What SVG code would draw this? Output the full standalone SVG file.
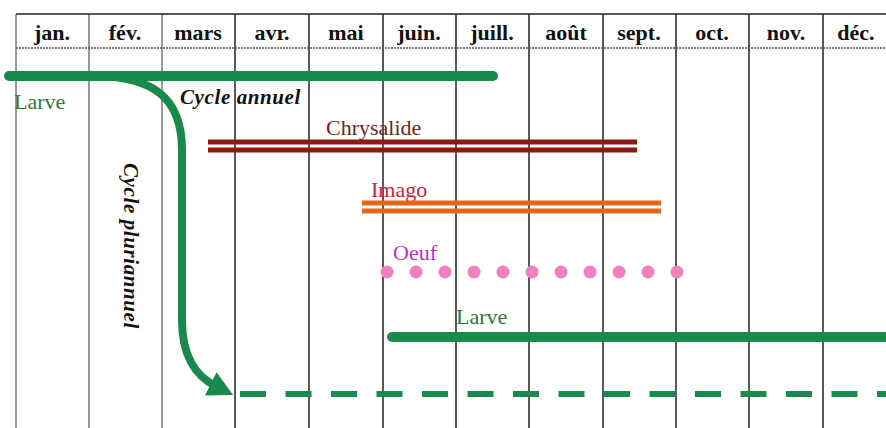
<svg xmlns="http://www.w3.org/2000/svg" width="886" height="428" viewBox="0 0 886 428">
<style>
.grid{stroke:#222;stroke-width:1.5}
.gridl{stroke:#777;stroke-width:1.5}
text{font-family:"Liberation Serif","Tinos","DejaVu Serif","Times New Roman",serif}
.hdr{font-weight:bold;font-size:22px;fill:#111;text-anchor:middle}
.lbl{font-size:22px}
.cyc{font-weight:bold;font-style:italic;font-size:21px;letter-spacing:0.6px;fill:#111}
.green{stroke:#1a8a4c;fill:none;stroke-linecap:round}
</style>
<defs>
<marker id="ah" markerWidth="28" markerHeight="28" refX="7" refY="13" orient="auto" markerUnits="userSpaceOnUse">
<path d="M0,0 L25,13 L0,26 Z" fill="#1a8a4c"/>
</marker>
</defs>
<rect width="886" height="428" fill="#fff"/>
<g id="grid">
<line class="gridl" x1="16" y1="14" x2="16" y2="428"/>
<line class="gridl" x1="89" y1="14" x2="89" y2="428"/>
<line class="gridl" x1="162" y1="14" x2="162" y2="428"/>
<line class="grid" x1="235" y1="14" x2="235" y2="428"/>
<line class="grid" x1="309" y1="14" x2="309" y2="428"/>
<line class="grid" x1="383" y1="14" x2="383" y2="428"/>
<line class="grid" x1="456" y1="14" x2="456" y2="428"/>
<line class="grid" x1="529" y1="14" x2="529" y2="428"/>
<line class="grid" x1="603" y1="14" x2="603" y2="428"/>
<line class="grid" x1="676" y1="14" x2="676" y2="428"/>
<line class="grid" x1="749" y1="14" x2="749" y2="428"/>
<line class="grid" x1="823" y1="14" x2="823" y2="428"/>
<line class="grid" x1="16" y1="14" x2="886" y2="14"/>
<line stroke="#555" stroke-width="1.5" stroke-dasharray="2,1" x1="16" y1="48" x2="886" y2="48"/>
</g>
<g id="header">
<text class="hdr" x="52" y="40">jan.</text>
<text class="hdr" x="125" y="40">fév.</text>
<text class="hdr" x="198" y="40">mars</text>
<text class="hdr" x="272" y="40">avr.</text>
<text class="hdr" x="346" y="40">mai</text>
<text class="hdr" x="419" y="40">juin.</text>
<text class="hdr" x="492" y="40">juill.</text>
<text class="hdr" x="566" y="40">août</text>
<text class="hdr" x="639" y="40">sept.</text>
<text class="hdr" x="712" y="40">oct.</text>
<text class="hdr" x="786" y="40">nov.</text>
<text class="hdr" x="856" y="40">déc.</text>
</g>
<g id="connectors">
<line class="green" x1="9" y1="76" x2="493" y2="76" stroke-width="10"/>
<path class="green" d="M100,76 C150,78 182,95 182,150 L182,320 C182,356 195,376 217,387" stroke-width="8" stroke-linecap="butt" marker-end="url(#ah)"/>
<line x1="240" y1="394" x2="886" y2="394" stroke="#1a8a4c" stroke-width="6" stroke-dasharray="26,19.5"/>
</g>
<g id="larve1">
<text class="lbl" x="14" y="109" fill="#2d7a3a">Larve</text>
</g>
<g id="cycle-annuel">
<text class="cyc" x="180" y="104">Cycle annuel</text>
</g>
<g id="cycle-pluriannuel">
<text class="cyc" transform="translate(124,163) rotate(90)">Cycle pluriannuel</text>
</g>
<g id="chrysalide">
<text class="lbl" x="326" y="135" fill="#6e1f25">Chrysalide</text>
<line x1="208" y1="142" x2="637" y2="142" stroke="#8b1a10" stroke-width="5"/>
<line x1="208" y1="150" x2="637" y2="150" stroke="#8b1a10" stroke-width="5"/>
</g>
<g id="imago">
<text class="lbl" x="371" y="197" fill="#d01e3c">Imago</text>
<line x1="362" y1="203" x2="661" y2="203" stroke="#e8641e" stroke-width="5"/>
<line x1="362" y1="211" x2="661" y2="211" stroke="#e8641e" stroke-width="5"/>
</g>
<g id="oeuf">
<text class="lbl" x="393" y="260" fill="#c030c8">Oeuf</text>
<g fill="#f080c0">
<circle cx="387" cy="272" r="6.5"/><circle cx="416" cy="272" r="6.5"/><circle cx="445" cy="272" r="6.5"/><circle cx="474" cy="272" r="6.5"/><circle cx="503" cy="272" r="6.5"/><circle cx="532" cy="272" r="6.5"/><circle cx="561" cy="272" r="6.5"/><circle cx="590" cy="272" r="6.5"/><circle cx="619" cy="272" r="6.5"/><circle cx="648" cy="272" r="6.5"/><circle cx="677" cy="272" r="6.5"/>
</g>
</g>
<g id="larve2">
<text class="lbl" x="456" y="324" fill="#2d7a3a">Larve</text>
<line class="green" x1="392" y1="337" x2="900" y2="337" stroke-width="10"/>
</g>
</svg>
